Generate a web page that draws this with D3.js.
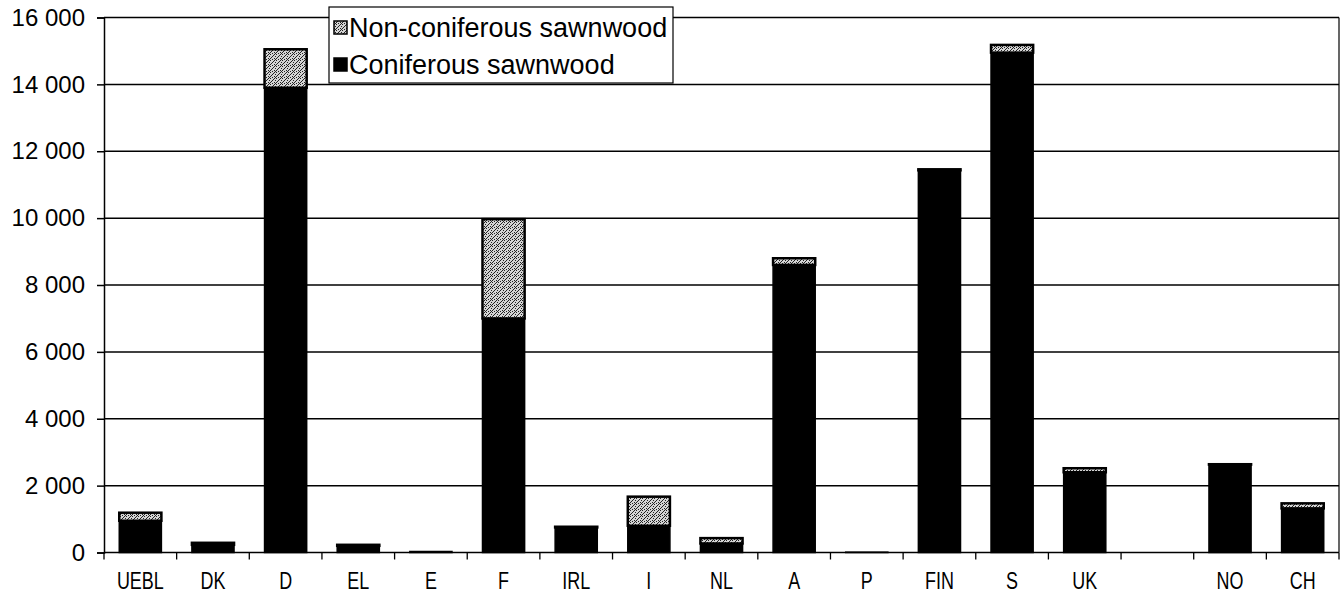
<!DOCTYPE html>
<html>
<head>
<meta charset="utf-8">
<script src="https://cdn.jsdelivr.net/npm/d3@7"></script>
<style>
  html, body { margin: 0; padding: 0; background: #fff; }
  svg { display: block; font-family: "Liberation Sans", Arial, Helvetica, sans-serif; }
</style>
</head>
<body>
<svg id="chart" width="1343" height="605"></svg>
<script>
// ---- data ----
const categories = ["UEBL", "DK", "D", "EL", "E", "F", "IRL", "I", "NL", "A", "P", "FIN", "S", "UK", "", "NO", "CH"];
const coniferous = [950, 230, 13900, 200, 30, 7000, 750, 800, 270, 8600, 10, 11430, 14950, 2400, null, 2630, 1320];
const nonConiferous = [240, 60, 1150, 30, 0, 2970, 20, 870, 160, 200, 0, 30, 230, 120, null, 10, 150];
const yTicks = [0, 2000, 4000, 6000, 8000, 10000, 12000, 14000, 16000];
const seriesNames = ["Non-coniferous sawnwood", "Coniferous sawnwood"];

// ---- layout ----
const svg = d3.select("#chart");
const plotLeft = 104, plotRight = 1339, plotTop = 17.5, plotBottom = 552.5;

const x = d3.scaleBand()
  .domain(d3.range(categories.length))
  .range([plotLeft, plotRight])
  .paddingInner(0.42)
  .paddingOuter(0.21);

const y = d3.scaleLinear().domain([0, 16000]).range([plotBottom, plotTop]);

const fmt = d3.formatLocale({ decimal: ",", thousands: "\u00a0", grouping: [3], currency: ["", ""] }).format(",d");

// pattern for non-coniferous
const defs = svg.append("defs");
const pat = defs.append("pattern")
  .attr("id", "speckle").attr("patternUnits", "userSpaceOnUse")
  .attr("width", 6).attr("height", 6);
pat.append("rect").attr("width", 6).attr("height", 6).attr("fill", "#d4d4d4");
const dots = [[0,0],[3,1],[1,3],[4,4],[5,2],[2,5],[0,4],[4,0],[2,2],[5,5]];
pat.selectAll("rect.d").data(dots).enter().append("rect")
  .attr("class", "d").attr("x", d => d[0]).attr("y", d => d[1])
  .attr("width", 1).attr("height", 1).attr("fill", "#222");

// gridlines
svg.append("g")
  .selectAll("line").data(yTicks).enter().append("line")
  .attr("x1", plotLeft).attr("x2", plotRight)
  .attr("y1", d => y(d)).attr("y2", d => y(d))
  .attr("stroke", "#000").attr("stroke-width", 1.5);

// right border
svg.append("line")
  .attr("x1", plotRight).attr("x2", plotRight).attr("y1", plotTop).attr("y2", plotBottom)
  .attr("stroke", "#000").attr("stroke-width", 1.2);

// y axis
const yAxis = svg.append("g")
  .attr("transform", `translate(${plotLeft},0)`)
  .call(d3.axisLeft(y).tickValues(yTicks).tickFormat(fmt).tickSize(7).tickPadding(12));
yAxis.select(".domain").attr("stroke", "#000").attr("stroke-width", 1.5);
yAxis.selectAll(".tick line").attr("stroke", "#000").attr("stroke-width", 1.5);
yAxis.selectAll(".tick text").attr("font-size", 24).attr("fill", "#000")
  .attr("font-family", "'Liberation Sans', Arial, sans-serif");

// x axis (ticks at category boundaries)
const boundaries = d3.range(categories.length + 1).map(i => plotLeft + i * x.step());
svg.append("g").selectAll("line").data(boundaries).enter().append("line")
  .attr("x1", d => d).attr("x2", d => d)
  .attr("y1", plotBottom).attr("y2", plotBottom + 7)
  .attr("stroke", "#000").attr("stroke-width", 1.3);
svg.append("g").selectAll("text").data(categories.map((c, i) => ({ c, i }))).enter().append("text")
  .attr("transform", d => `translate(${x(d.i) + x.bandwidth() / 2},589) scale(0.78,1)`)
  .attr("text-anchor", "middle")
  .attr("font-size", 23)
  .attr("fill", "#000")
  .text(d => d.c);

// bars
const rows = categories.map((c, i) => ({ i, con: coniferous[i], non: nonConiferous[i] }))
  .filter(d => d.con !== null);

const barG = svg.append("g");
barG.selectAll("rect.con").data(rows).enter().append("rect")
  .attr("class", "con")
  .attr("x", d => x(d.i)).attr("width", x.bandwidth())
  .attr("y", d => y(d.con)).attr("height", d => y(0) - y(d.con))
  .attr("fill", "#000").attr("stroke", "#000").attr("stroke-width", 1.5);
barG.selectAll("rect.non").data(rows.filter(d => d.non > 0)).enter().append("rect")
  .attr("class", "non")
  .attr("x", d => x(d.i)).attr("width", x.bandwidth())
  .attr("y", d => y(d.con + d.non)).attr("height", d => y(d.con) - y(d.con + d.non))
  .attr("fill", "url(#speckle)").attr("stroke", "#000").attr("stroke-width", 2.5);

// legend
const lg = svg.append("g");
lg.append("rect").attr("x", 329).attr("y", 7).attr("width", 344).attr("height", 76)
  .attr("fill", "#fff").attr("stroke", "#000").attr("stroke-width", 1.2);
const items = [
  { name: seriesNames[0], fill: "url(#speckle)", yy: 28 },
  { name: seriesNames[1], fill: "#000", yy: 65 }
];
items.forEach(it => {
  lg.append("rect").attr("x", 334).attr("y", it.yy - 7).attr("width", 13).attr("height", 13)
    .attr("fill", it.fill).attr("stroke", "#000").attr("stroke-width", 1.5);
  lg.append("text").attr("x", 349).attr("y", it.yy + 9)
    .attr("font-size", 27).attr("fill", "#000").text(it.name);
});
</script>
</body>
</html>
